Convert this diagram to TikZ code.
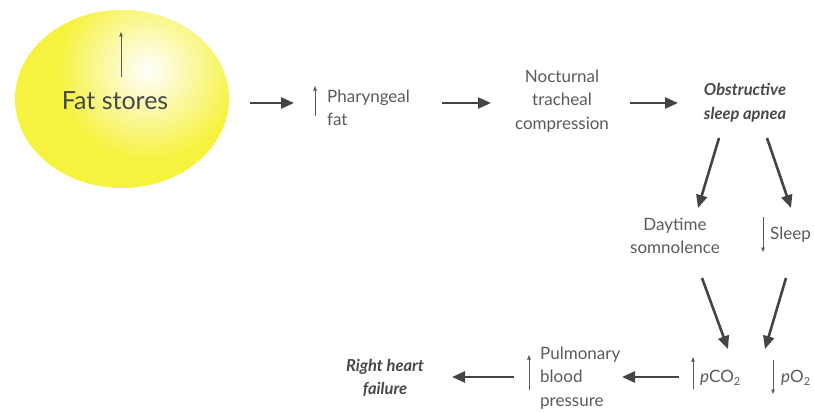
\documentclass[tikz,border=0pt]{standalone}
\usepackage{fontspec}
\setmainfont{Lato}
\usetikzlibrary{arrows.meta}
\definecolor{txt}{HTML}{5A5A5A}
\definecolor{arr}{HTML}{444444}
\definecolor{fatyellow}{HTML}{F6F240}
\newcommand{\lsub}[1]{\raisebox{-0.35ex}{\fontsize{11}{11}\selectfont #1}}
\begin{document}
\begin{tikzpicture}[x=1pt,y=-1pt,
  bigarrow/.style={draw=arr,line width=2.6pt,-{Triangle[length=13pt,width=11pt]}},
  smallarrow/.style={draw=txt,line width=0.8pt,-{Triangle[length=4.5pt,width=3.5pt]}},
  lbl/.style={text=txt,font=\fontsize{17}{23.5}\selectfont,align=center,inner sep=0pt},
  lbll/.style={text=txt,font=\fontsize{17}{23.5}\selectfont,align=left,inner sep=0pt,anchor=west},
  bold/.style={text=txt!80!black,font=\fontsize{16.5}{23.5}\selectfont\bfseries\itshape,align=center,inner sep=0pt}]
\useasboundingbox (0,0) rectangle (814,412);
% fat stores ellipse
\begin{scope}
\clip (122,99) ellipse [x radius=107,y radius=89];
\fill[fatyellow] (122,99) ellipse [x radius=107,y radius=89];
\shade[inner color=white,outer color=fatyellow] (148,70) circle (90);
\end{scope}
\node[text=black!72,font=\fontsize{25}{30}\selectfont,inner sep=0pt] (fat) at (115,101) {Fat stores};
\coordinate (fatA) at (121,77);
\coordinate (fatB) at (121,32);
\draw[smallarrow] (fatA) -- (fatB);
% pharyngeal
\node[lbll] (phar) at (327,108) {Pharyngeal\\fat};
\coordinate (pharA) at (315,116);
\coordinate (pharB) at (315,86);
\draw[smallarrow] (pharA) -- (pharB);
% nocturnal
\node[lbl] (noct) at (562,101) {Nocturnal\\tracheal\\compression};
% OSA
\node[bold] (osa) at (745,103) {Obstructive\\sleep apnea};
% daytime
\node[lbl] (day) at (675,236) {Daytime\\somnolence};
% sleep
\node[lbll] (sleep) at (770,235) {Sleep};
\coordinate (slA) at (763,217);
\coordinate (slB) at (763,252);
\draw[smallarrow] (slA) -- (slB);
% gases
\node[lbll] (pco) at (700,378) {\textit{p}CO\lsub{2}};
\coordinate (pcA) at (693,389);
\coordinate (pcB) at (693,357);
\draw[smallarrow] (pcA) -- (pcB);
\node[lbll] (po) at (781,378) {\textit{p}O\lsub{2}};
\coordinate (poA) at (773,360);
\coordinate (poB) at (773,394);
\draw[smallarrow] (poA) -- (poB);
% pulmonary
\node[lbll] (pulm) at (540,378) {Pulmonary\\blood\\pressure};
\coordinate (puA) at (529,390);
\coordinate (puB) at (529,355);
\draw[smallarrow] (puA) -- (puB);
% right heart failure
\node[bold] (rhf) at (385,378) {Right heart\\failure};
% main arrows
\coordinate (a1s) at (250,103); \coordinate (a1e) at (294,103);
\draw[bigarrow] (a1s) -- (a1e);
\coordinate (a2s) at (442,103); \coordinate (a2e) at (491,103);
\draw[bigarrow] (a2s) -- (a2e);
\coordinate (a3s) at (630,103); \coordinate (a3e) at (678,103);
\draw[bigarrow] (a3s) -- (a3e);
\coordinate (a4s) at (719,138); \coordinate (a4e) at (698,208);
\draw[bigarrow] (a4s) -- (a4e);
\coordinate (a5s) at (767,138); \coordinate (a5e) at (791,208);
\draw[bigarrow] (a5s) -- (a5e);
\coordinate (a6s) at (702,278); \coordinate (a6e) at (728,349);
\draw[bigarrow] (a6s) -- (a6e);
\coordinate (a7s) at (786,278); \coordinate (a7e) at (765,349);
\draw[bigarrow] (a7s) -- (a7e);
\coordinate (a8s) at (679,377); \coordinate (a8e) at (622,377);
\draw[bigarrow] (a8s) -- (a8e);
\coordinate (a9s) at (514,377); \coordinate (a9e) at (452,377);
\draw[bigarrow] (a9s) -- (a9e);
\end{tikzpicture}
\end{document}
